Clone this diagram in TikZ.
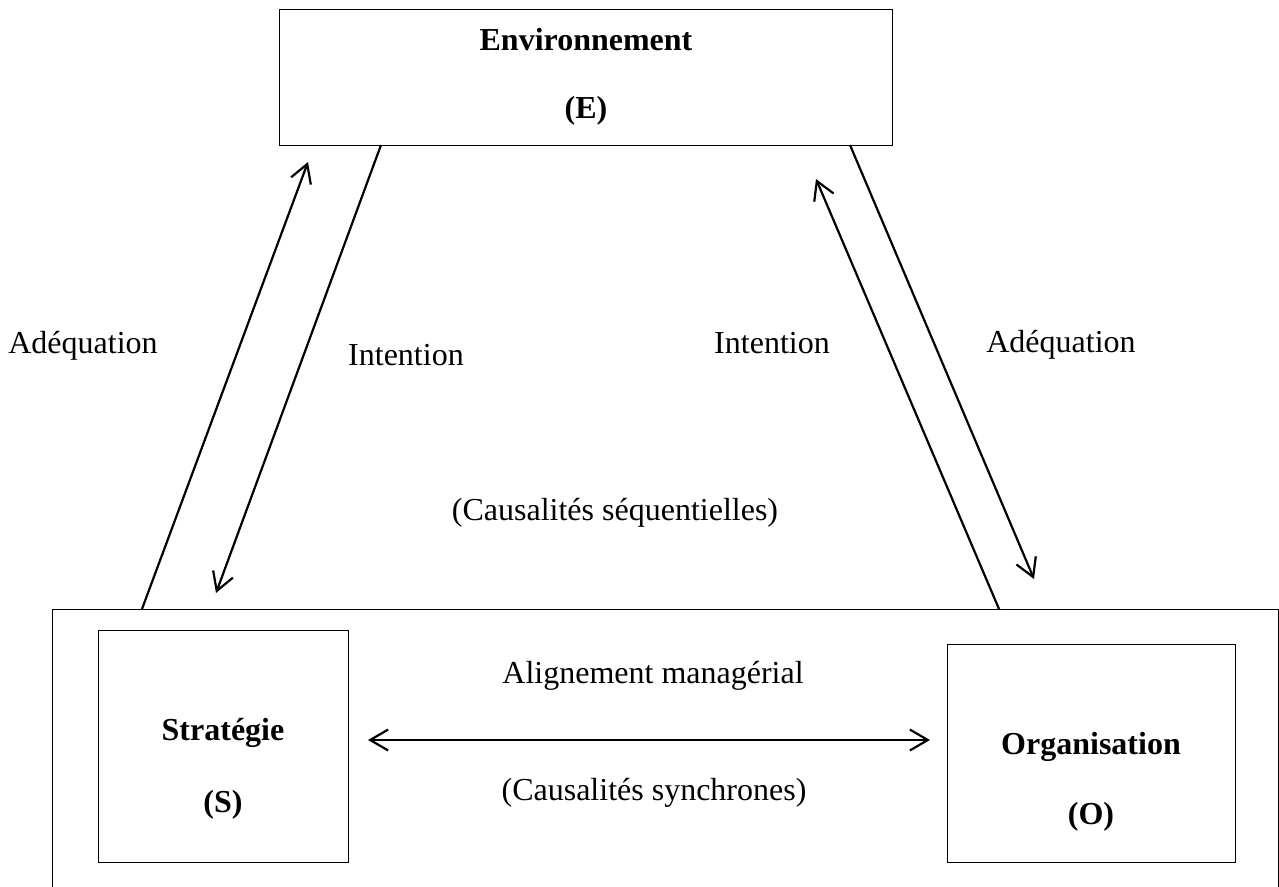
\documentclass[tikz,border=0pt]{standalone}
\usepackage{fontspec}
\setmainfont{Liberation Serif}
\usetikzlibrary{arrows.meta}
\begin{document}
\begin{tikzpicture}[x=1pt,y=-1pt,
  box/.style={draw, line width=1.3pt, inner sep=0pt, anchor=north west},
  lbl/.style={font=\fontsize{32}{38}\selectfont, anchor=base, inner sep=0pt},
  blbl/.style={font=\fontsize{32}{38}\selectfont\bfseries, anchor=base, inner sep=0pt},
  barb/.tip={Straight Barb[length=18pt,width=21pt,line width=2.2pt]},
  link/.style={line width=2.2pt, -{barb}},
  biglink/.style={line width=2.2pt, {barb}-{barb}}]
  \clip (0,0) rectangle (1279,886);

  % frames
  \node[box, minimum width=613pt, minimum height=136pt] (E) at (279,9) {};
  \node[box, minimum width=1226pt, minimum height=320pt] (frame) at (52,609) {};
  \node[box, minimum width=250pt, minimum height=232pt] (S) at (98,630) {};
  \node[box, minimum width=288pt, minimum height=218pt] (O) at (947,644) {};

  % box captions
  \node[blbl] (Etitle) at (586,50) {Environnement};
  \node[blbl] (Eletter) at (586,118) {(E)};
  \node[blbl] (Stitle) at (223,740) {Stratégie};
  \node[blbl] (Sletter) at (223,812) {(S)};
  \node[blbl] (Otitle) at (1091,754) {Organisation};
  \node[blbl] (Oletter) at (1091,824) {(O)};

  % arrow labels
  \node[lbl] (adqL) at (83,353) {Adéquation};
  \node[lbl] (intL) at (406,365) {Intention};
  \node[lbl] (intR) at (772,353) {Intention};
  \node[lbl] (adqR) at (1061,352) {Adéquation};
  \node[lbl] (seq) at (615,520) {(Causalités séquentielles)};
  \node[lbl] (align) at (653,683) {Alignement managérial};
  \node[lbl] (sync) at (654,800) {(Causalités synchrones)};

  % connector end points
  \coordinate (aLfoot) at (142,609);
  \coordinate (aLtip)  at (308,162);
  \coordinate (iLfoot) at (381,145);
  \coordinate (iLtip)  at (216,593);
  \coordinate (iRfoot) at (999,609);
  \coordinate (iRtip)  at (816,179);
  \coordinate (aRfoot) at (850,145);
  \coordinate (aRtip)  at (1034,579);
  \coordinate (hL) at (368,740);
  \coordinate (hR) at (930,740);

  % connectors
  \draw[link] (aLfoot) -- (aLtip);
  \draw[link] (iLfoot) -- (iLtip);
  \draw[link] (iRfoot) -- (iRtip);
  \draw[link] (aRfoot) -- (aRtip);
  \draw[biglink] (hL) -- (hR);
\end{tikzpicture}
\end{document}
